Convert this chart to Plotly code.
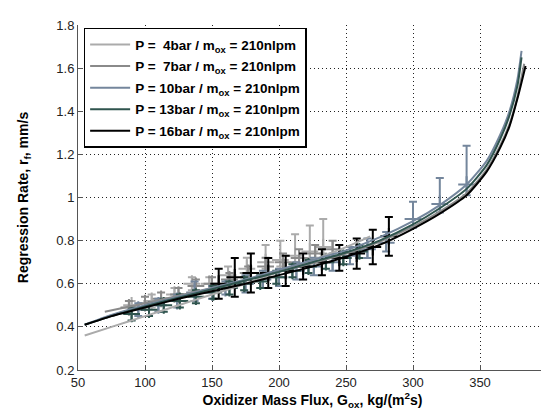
import plotly.graph_objects as go

# ---- fitted curves ----
curve_x_4 = [55, 75, 100, 125, 150, 175, 200, 225, 250, 268]
curve_y_4 = [0.36, 0.40, 0.45, 0.50, 0.55, 0.60, 0.655, 0.71, 0.77, 0.82]

curve_x_7 = [70, 100, 125, 150, 175, 200, 225, 250, 275, 300, 320, 340, 355, 365, 372, 378, 383]
curve_y_7 = [0.47, 0.51, 0.545, 0.58, 0.615, 0.655, 0.695, 0.74, 0.795, 0.865, 0.935, 1.02, 1.13, 1.24, 1.34, 1.47, 1.62]

curve_x = [55, 75, 100, 125, 150, 175, 200, 225, 250, 275, 300, 320, 340, 355, 365, 372, 378, 381]
curve_y_10 = [0.41, 0.455, 0.50, 0.54, 0.58, 0.62, 0.665, 0.71, 0.755, 0.815, 0.89, 0.965, 1.06, 1.17, 1.29, 1.40, 1.55, 1.68]
curve_y_13 = [0.41, 0.45, 0.495, 0.535, 0.575, 0.615, 0.655, 0.70, 0.745, 0.80, 0.875, 0.95, 1.04, 1.15, 1.27, 1.38, 1.52, 1.65]
curve_x_16 = [55, 75, 100, 125, 150, 175, 200, 225, 250, 275, 300, 320, 340, 355, 365, 372, 378, 384]
curve_y_16 = [0.41, 0.45, 0.49, 0.53, 0.565, 0.60, 0.64, 0.68, 0.725, 0.78, 0.855, 0.925, 1.01, 1.12, 1.23, 1.33, 1.46, 1.61]

# ---- measured points with error bars ----
pts_x_4 = [90, 105, 122, 135, 148, 162, 176, 190, 201, 212, 223, 233]
pts_y_4 = [0.50, 0.52, 0.55, 0.60, 0.60, 0.64, 0.67, 0.70, 0.71, 0.73, 0.75, 0.77]
err_p_4 = [0.02, 0.03, 0.03, 0.03, 0.03, 0.04, 0.05, 0.08, 0.09, 0.10, 0.12, 0.13]
err_m_4 = [0.02, 0.03, 0.03, 0.03, 0.03, 0.03, 0.03, 0.03, 0.03, 0.03, 0.03, 0.03]

pts_x_7 = [88, 100, 112, 125, 138, 150, 163, 177, 190, 203, 215, 227, 240]
pts_y_7 = [0.49, 0.51, 0.53, 0.55, 0.59, 0.60, 0.62, 0.65, 0.68, 0.70, 0.72, 0.74, 0.76]
err_7 = [0.03, 0.03, 0.03, 0.03, 0.03, 0.03, 0.03, 0.03, 0.04, 0.04, 0.04, 0.04, 0.04]

pts_x_10 = [95, 110, 124, 137, 150, 160, 175, 188, 200, 213, 226, 240, 253, 266, 280, 300, 320, 340]
pts_y_10 = [0.48, 0.50, 0.52, 0.56, 0.56, 0.58, 0.60, 0.62, 0.63, 0.66, 0.68, 0.70, 0.73, 0.76, 0.79, 0.90, 0.97, 1.06]
err_p_10 = [0.03, 0.03, 0.03, 0.05, 0.03, 0.03, 0.04, 0.04, 0.04, 0.04, 0.04, 0.04, 0.04, 0.05, 0.05, 0.08, 0.12, 0.18]
err_m_10 = [0.03, 0.03, 0.03, 0.04, 0.03, 0.03, 0.04, 0.04, 0.04, 0.04, 0.04, 0.04, 0.04, 0.04, 0.04, 0.04, 0.04, 0.05]

pts_x_13 = [90, 103, 114, 126, 138, 151, 163, 174, 186, 198, 210, 222, 235, 248, 260]
pts_y_13 = [0.46, 0.48, 0.50, 0.52, 0.54, 0.56, 0.58, 0.60, 0.61, 0.63, 0.66, 0.68, 0.70, 0.72, 0.75]
err_13 = [0.03, 0.03, 0.03, 0.03, 0.03, 0.03, 0.03, 0.03, 0.03, 0.03, 0.03, 0.03, 0.03, 0.03, 0.03]

pts_x_16 = [155, 167, 179, 192, 205, 218, 232, 245, 258, 270, 282]
pts_y_16 = [0.60, 0.63, 0.65, 0.65, 0.66, 0.68, 0.70, 0.72, 0.74, 0.77, 0.82]
err_16 = [0.07, 0.09, 0.09, 0.07, 0.07, 0.06, 0.06, 0.06, 0.07, 0.08, 0.09]

labels = ["P =  4bar / m<sub>ox</sub> = 210nlpm",
          "P =  7bar / m<sub>ox</sub> = 210nlpm",
          "P = 10bar / m<sub>ox</sub> = 210nlpm",
          "P = 13bar / m<sub>ox</sub> = 210nlpm",
          "P = 16bar / m<sub>ox</sub> = 210nlpm"]
colors = ["#ababab", "#8a8a8a", "#74869c", "#2f544e", "#000000"]

curves = [(curve_x_4, curve_y_4), (curve_x_7, curve_y_7), (curve_x, curve_y_10),
          (curve_x, curve_y_13), (curve_x_16, curve_y_16)]
points = [(pts_x_4, pts_y_4, err_p_4, err_m_4), (pts_x_7, pts_y_7, err_7, err_7),
          (pts_x_10, pts_y_10, err_p_10, err_m_10), (pts_x_13, pts_y_13, err_13, err_13),
          (pts_x_16, pts_y_16, err_16, err_16)]

fig = go.Figure()
for (px, py, ep, em), c in zip(points, colors):
    fig.add_trace(go.Scatter(
        x=px, y=py, mode="markers", showlegend=False,
        marker=dict(symbol="cross-thin", size=12, line=dict(color=c, width=2)),
        error_y=dict(type="data", symmetric=False, array=ep, arrayminus=em,
                     color=c, thickness=2, width=4)))
for i, ((cx, cy), c, lab) in enumerate(zip(curves, colors, labels)):
    fig.add_trace(go.Scatter(x=cx, y=cy, mode="lines", name="<b>" + lab + "</b>",
                             legendgroup="g%d" % i,
                             line=dict(color=c, width=2, shape="spline", smoothing=0.6)))

axis_common = dict(showline=True, linecolor="#555555", linewidth=1, mirror=False,
                   ticks="inside", ticklen=5, tickcolor="#555555",
                   showgrid=True, gridcolor="#222222", gridwidth=1, griddash="1px,3px",
                   zeroline=False, tickfont=dict(family="Liberation Sans, Arial", size=13, color="#222222"))

fig.update_layout(
    width=549, height=420,
    margin=dict(l=70, r=10, t=10, b=58),
    paper_bgcolor="white", plot_bgcolor="white",
    font=dict(family="Liberation Sans, Arial", color="black"),
    xaxis=dict(range=[50, 400], dtick=50, tick0=50,
               title=dict(text="<b>Oxidizer Mass Flux, G<sub>ox</sub>, kg/(m<sup>2</sup>s)</b>",
                          font=dict(size=14), standoff=6),
               **axis_common),
    yaxis=dict(range=[0.2, 1.8], dtick=0.2, tick0=0.2,
               title=dict(text="<b>Regression Rate, r<sub>f</sub>, mm/s</b>",
                          font=dict(size=14), standoff=24),
               **axis_common),
    legend=dict(x=0.012, y=0.992, xanchor="left", yanchor="top",
                bgcolor="white", bordercolor="black", borderwidth=1.5,
                font=dict(family="Liberation Sans, Arial", size=13.5, color="black"),
                traceorder="grouped", tracegroupgap=1, itemwidth=40),
    showlegend=True,
)

fig.write_html("out.html")
